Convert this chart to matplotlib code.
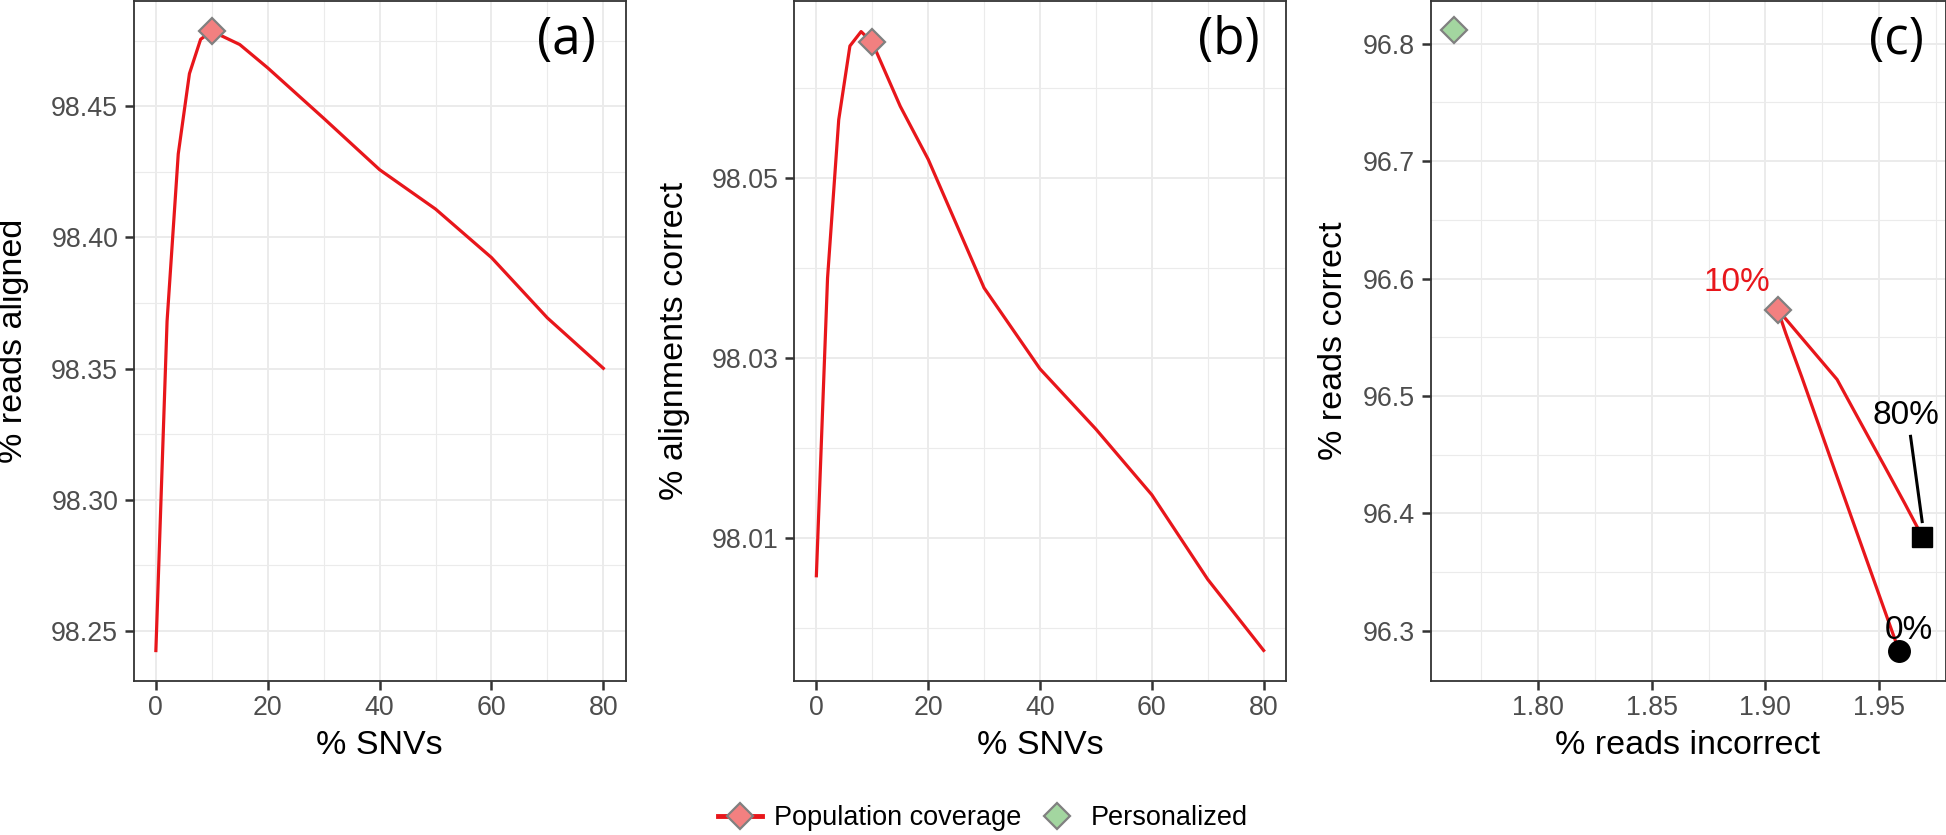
import matplotlib
matplotlib.use("Agg")
import matplotlib.pyplot as plt
from matplotlib.lines import Line2D
import numpy as np

# ---------------- data ----------------
snv_pct = [0, 2, 4, 6, 8, 10, 15, 20, 30, 40, 50, 60, 70, 80]
reads_aligned = [98.2425, 98.368, 98.4318, 98.4624, 98.4755, 98.4786, 98.4735,
                 98.4646, 98.4454, 98.4258, 98.4108, 98.3923, 98.3693, 98.3501]
alignments_correct = [98.0058, 98.0389, 98.0565, 98.0647, 98.0663, 98.0651, 98.0580,
                      98.0521, 98.0378, 98.0288, 98.0221, 98.0148, 98.0054, 97.9975]
reads_incorrect = [1.9587, 1.9304, 1.9160, 1.9090, 1.9062, 1.9054, 1.9097,
                   1.9166, 1.9315, 1.9392, 1.9451, 1.9524, 1.9614, 1.9690]
reads_correct = [96.2830, 96.4370, 96.5160, 96.5530, 96.5690, 96.5736, 96.5638,
                 96.5480, 96.5140, 96.4866, 96.4657, 96.4400, 96.4079, 96.3800]
best_snv = 10
personalized_incorrect = 1.7631
personalized_correct = 96.8114
pct_labels = ["0%", "10%", "80%"]
legend_labels = ["Population coverage", "Personalized"]

# ---------------- style ----------------
W, H = 1946, 835
DPI = 100
RED = "#E8161B"
RED_FILL = "#F28080"
GREEN_FILL = "#A3D6A0"
EDGE = "#808080"
GRID = "#EBEBEB"
TICKC = "#4D4D4D"
SANS = ["Liberation Sans", "DejaVu Sans"]
plt.rcParams["font.family"] = SANS

fig = plt.figure(figsize=(W / DPI, H / DPI), dpi=DPI)


def fx(px):
    return px / W


def fy(py):
    return 1 - py / H


top_px, bot_px = 1.0, 681.0
panels = {
    "a": (133.5, 625.7),
    "b": (794.0, 1286.0),
    "c": (1430.6, 1946.5),
}


def make_ax(key):
    l, r = panels[key]
    ax = fig.add_axes([fx(l), fy(bot_px), (r - l) / W, (bot_px - top_px) / H])
    for s in ax.spines.values():
        s.set_color("#333333")
        s.set_linewidth(1.3)
    ax.tick_params(axis="both", which="major", length=6.5, width=1.8, color="#333333",
                   labelsize=19.3, labelcolor=TICKC)
    ax.tick_params(axis="x", which="major", pad=3.5)
    ax.tick_params(axis="y", which="major", pad=4.5)
    ax.tick_params(axis="both", which="minor", length=0)
    ax.grid(True, which="major", color=GRID, lw=1.4, zorder=0)
    ax.grid(True, which="minor", color=GRID, lw=0.8, zorder=0)
    ax.set_axisbelow(True)
    return ax


mk = dict(marker="D", markersize=13.5, markeredgecolor=EDGE, markeredgewidth=1.6)
bi = snv_pct.index(best_snv)

# ---- panel (a)
axa = make_ax("a")
axa.plot(snv_pct, reads_aligned, color=RED, lw=2.3, zorder=3)
axa.plot([snv_pct[bi]], [reads_aligned[bi]], ls="none", markerfacecolor=RED_FILL, zorder=4, **mk)
axa.set_xlim(-4, 84)
axa.set_ylim(98.2309, 98.4901)
axa.set_xticks([0, 20, 40, 60, 80])
axa.set_xticks([10, 30, 50, 70], minor=True)
axa.set_yticks([98.25, 98.30, 98.35, 98.40, 98.45])
axa.set_yticklabels(["98.25", "98.30", "98.35", "98.40", "98.45"])
axa.set_yticks([98.275, 98.325, 98.375, 98.425, 98.475], minor=True)

# ---- panel (b)
axb = make_ax("b")
axb.plot(snv_pct, alignments_correct, color=RED, lw=2.3, zorder=3)
axb.plot([snv_pct[bi]], [alignments_correct[bi]], ls="none", markerfacecolor=RED_FILL, zorder=4, **mk)
axb.set_xlim(-4, 84)
axb.set_ylim(97.9941, 98.0697)
axb.set_xticks([0, 20, 40, 60, 80])
axb.set_xticks([10, 30, 50, 70], minor=True)
axb.set_yticks([98.01, 98.03, 98.05])
axb.set_yticklabels(["98.01", "98.03", "98.05"])
axb.set_yticks([98.00, 98.02, 98.04, 98.06], minor=True)

# ---- panel (c)
axc = make_ax("c")
axc.plot(reads_incorrect, reads_correct, color=RED, lw=2.3, zorder=3)
axc.plot([reads_incorrect[bi]], [reads_correct[bi]], ls="none", markerfacecolor=RED_FILL, zorder=4, **mk)
axc.plot([personalized_incorrect], [personalized_correct], ls="none", markerfacecolor=GREEN_FILL, zorder=4, **mk)
axc.plot([reads_incorrect[0]], [reads_correct[0]], ls="none", marker="o", markersize=15.5,
         color="black", zorder=5)
axc.plot([reads_incorrect[-1]], [reads_correct[-1]], ls="none", marker="s", markersize=15,
         color="black", zorder=5)
axc.set_xlim(1.7528, 1.9796)
axc.set_ylim(96.2572, 96.8364)
axc.set_xticks([1.80, 1.85, 1.90, 1.95])
axc.set_xticklabels(["1.80", "1.85", "1.90", "1.95"])
axc.set_xticks([1.775, 1.825, 1.875, 1.925, 1.975], minor=True)
axc.set_yticks([96.3, 96.4, 96.5, 96.6, 96.7, 96.8])
axc.set_yticks([96.35, 96.45, 96.55, 96.65, 96.75], minor=True)
LS = 24
axc.text(1.8875, 96.5966, pct_labels[1], color=RED, fontsize=LS, ha="center", va="center", zorder=6)
axc.text(1.9617, 96.4835, pct_labels[2], color="black", fontsize=LS, ha="center", va="center", zorder=6)
axc.text(1.9632, 96.3006, pct_labels[0], color="black", fontsize=LS, ha="center", va="center", zorder=6)
axc.plot([1.9638, 1.9689], [96.4656, 96.3930], color="black", lw=2.2, zorder=6)

# ---- panel tags
for key, (px, py) in {"a": (566.7, 40), "b": (1229, 41), "c": (1896, 41)}.items():
    fig.text(fx(px), fy(py), f"({key})", fontsize=37, family=["Open Sans", "DejaVu Sans"],
             ha="center", va="center")

# ---- axis titles
TS = 24.5
fig.text(fx(379.6), fy(746), "% SNVs", fontsize=TS, ha="center", va="center")
fig.text(fx(1040), fy(746), "% SNVs", fontsize=TS, ha="center", va="center")
fig.text(fx(1688), fy(746), "% reads incorrect", fontsize=TS, ha="center", va="center")
fig.text(fx(14), fy(341), "% reads aligned", fontsize=TS, rotation=90, ha="center", va="center")
fig.text(fx(674), fy(341), "% alignments correct", fontsize=TS, rotation=90, ha="center", va="center")
fig.text(fx(1334), fy(341), "% reads correct", fontsize=TS, rotation=90, ha="center", va="center")

# ---- legend
handles = [
    Line2D([0], [0], color=RED, lw=3.5, marker="D", markersize=13.5, markerfacecolor=RED_FILL,
           markeredgecolor=EDGE, markeredgewidth=1.6),
    Line2D([0], [0], ls="none", marker="D", markersize=13.5, markerfacecolor=GREEN_FILL,
           markeredgecolor=EDGE, markeredgewidth=1.6),
]
fig.legend(handles, legend_labels, loc="center", bbox_to_anchor=(fx(983), fy(818)), ncol=2,
           frameon=False, fontsize=19.5, handlelength=1.6, handletextpad=0.45, columnspacing=0.5,
           borderaxespad=0, borderpad=0)

fig.savefig("out.png", dpi=DPI)
